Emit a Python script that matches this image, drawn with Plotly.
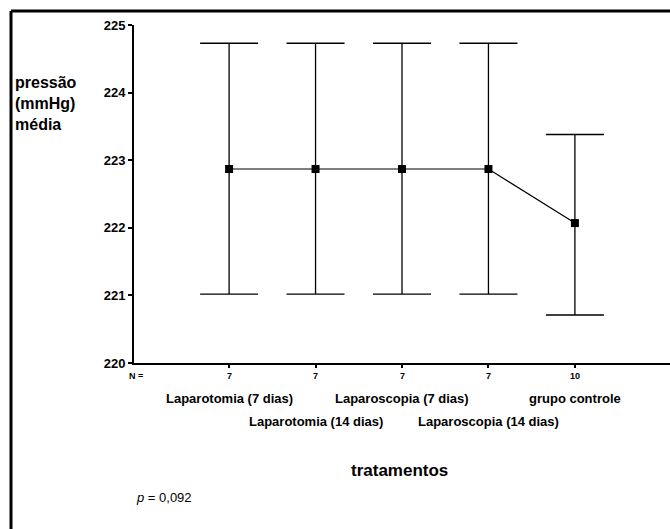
import plotly.graph_objects as go

# ---- data ----
categorias_linha1 = ["Laparotomia (7 dias)", "", "Laparoscopia (7 dias)", "", "grupo controle"]
categorias_linha2 = ["", "Laparotomia (14 dias)", "", "Laparoscopia (14 dias)", ""]
n_por_grupo = [7, 7, 7, 7, 10]
media = [222.87, 222.87, 222.87, 222.87, 222.07]
limite_superior = [224.73, 224.73, 224.73, 224.73, 223.38]
limite_inferior = [221.02, 221.02, 221.02, 221.02, 220.71]
y_ticks = [220, 221, 222, 223, 224, 225]

W, H = 670, 529
L, R, T, B = 134, 0, 25, 166
PW, PH = W - L - R, H - T - B

def px(x):
    return (x - L) / PW

def py(y):
    return (H - B - y) / PH

xs = list(range(len(media)))
err_plus = [u - m for u, m in zip(limite_superior, media)]
err_minus = [m - l for m, l in zip(media, limite_inferior)]

fig = go.Figure()
fig.add_trace(go.Scatter(
    x=xs, y=media, mode="lines+markers",
    line=dict(color="black", width=1.2),
    marker=dict(symbol="square", size=8, color="black"),
    error_y=dict(type="data", symmetric=False, array=err_plus, arrayminus=err_minus,
                 color="black", thickness=1.3, width=29),
    showlegend=False, hoverinfo="skip",
))

font_b = "Liberation Sans"
ann = []
ann.append(dict(x=px(145), y=py(376), xref="paper", yref="paper", text="<b>N =</b>",
                showarrow=False, xanchor="right", yanchor="middle",
                font=dict(family=font_b, size=9, color="black")))
for i, n in enumerate(n_por_grupo):
    ann.append(dict(x=i, y=py(376), xref="x", yref="paper", text=f"<b>{n}</b>",
                    showarrow=False, xanchor="center", yanchor="middle",
                    font=dict(family=font_b, size=9, color="black")))
for i, lab in enumerate(categorias_linha1):
    if lab:
        ann.append(dict(x=i, y=py(398), xref="x", yref="paper", text=f"<b>{lab}</b>",
                        showarrow=False, xanchor="center", yanchor="middle",
                        font=dict(family=font_b, size=13, color="black")))
for i, lab in enumerate(categorias_linha2):
    if lab:
        ann.append(dict(x=i, y=py(421), xref="x", yref="paper", text=f"<b>{lab}</b>",
                        showarrow=False, xanchor="center", yanchor="middle",
                        font=dict(family=font_b, size=13, color="black")))
ann.append(dict(x=px(399), y=py(470), xref="paper", yref="paper", text="<b>tratamentos</b>",
                showarrow=False, xanchor="center", yanchor="middle",
                font=dict(family=font_b, size=17, color="black")))
ann.append(dict(x=px(134), y=py(497), xref="paper", yref="paper", text="<i>p</i> = 0,092",
                showarrow=False, xanchor="left", yanchor="middle",
                font=dict(family=font_b, size=13, color="black")))
ann.append(dict(x=px(13), y=py(72), xref="paper", yref="paper",
                text="<b>pressão<br>(mmHg)<br>média</b>", align="left",
                showarrow=False, xanchor="left", yanchor="top",
                font=dict(family=font_b, size=16, color="black")))

shapes = [
    dict(type="line", xref="paper", yref="paper", x0=px(11), x1=px(672), y0=py(11), y1=py(11),
         line=dict(color="black", width=3)),
    dict(type="line", xref="paper", yref="paper", x0=px(11), x1=px(11), y0=py(11), y1=py(531),
         line=dict(color="black", width=3)),
]

fig.update_layout(
    width=W, height=H, margin=dict(l=L, r=R, t=T, b=B),
    paper_bgcolor="white", plot_bgcolor="white",
    annotations=ann, shapes=shapes,
    xaxis=dict(range=[-1.1, 5.1], showgrid=False, zeroline=False, showline=True,
               linecolor="black", linewidth=2, ticks="outside", ticklen=3, tickwidth=2,
               tickcolor="black", tickvals=xs, showticklabels=False),
    yaxis=dict(range=[220, 225], showgrid=False, zeroline=False, showline=True,
               linecolor="black", linewidth=2, ticks="outside", ticklen=4, tickwidth=2,
               tickcolor="black", tickvals=y_ticks,
               ticktext=[f"<b>{v}</b>" for v in y_ticks],
               tickfont=dict(family=font_b, size=13, color="black")),
)

fig.write_html(
    "out.html",
    config={"displayModeBar": False},
    post_script="document.body.style.margin='0';document.body.style.overflow='hidden';",
)
